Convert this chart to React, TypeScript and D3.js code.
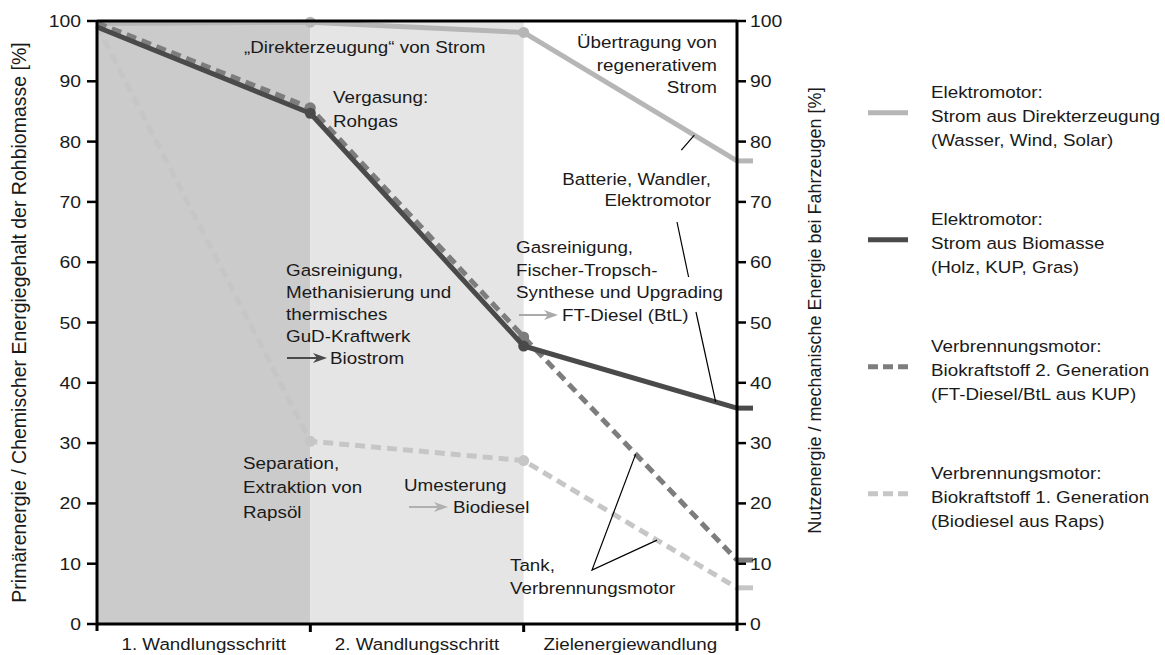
import * as d3 from "d3";

// stages on the x axis
const stages = ["1. Wandlungsschritt", "2. Wandlungsschritt", "Zielenergiewandlung"];
const yTicks = [0, 10, 20, 30, 40, 50, 60, 70, 80, 90, 100];

// energy share [%] at start, after step 1, after step 2, at the wheel
const direkt = [99.6, 99.8, 98.1, 76.8];
const biomasse = [99.0, 84.7, 46.1, 35.8];
const ftDiesel = [99.7, 85.6, 47.6, 10.6];
const biodiesel = [99.2, 30.3, 27.1, 6.0];

const legendLabels = [
  ["Elektromotor:", "Strom aus Direkterzeugung", "(Wasser, Wind, Solar)"],
  ["Elektromotor:", "Strom aus Biomasse", "(Holz, KUP, Gras)"],
  ["Verbrennungsmotor:", "Biokraftstoff 2. Generation", "(FT-Diesel/BtL aus KUP)"],
  ["Verbrennungsmotor:", "Biokraftstoff 1. Generation", "(Biodiesel aus Raps)"],
];

const series = [
  { key: "direkt", values: direkt, color: "#b6b6b6", dash: undefined },
  { key: "biomasse", values: biomasse, color: "#4a4a4a", dash: undefined },
  { key: "ft", values: ftDiesel, color: "#7d7d7d", dash: "10,6" },
  { key: "bio1", values: biodiesel, color: "#c6c6c6", dash: "10,6" },
];
const drawOrder = ["bio1", "direkt", "ft", "biomasse"];

const W = 1165;
const H = 655;
const left = 97;
const right = 737;
const top = 21;
const bottom = 624;
const SX = 1.14; // the reference is a bit wide
const FONT = "'Liberation Sans', Arial, Helvetica, sans-serif";
const INK = "#1a1a1a";

function Txt({
  x,
  y,
  lines,
  anchor = "start",
  size = 16.5,
  lh = 22.5,
}: {
  x: number;
  y: number;
  lines: string[];
  anchor?: "start" | "middle" | "end";
  size?: number;
  lh?: number;
}) {
  return (
    <text
      transform={`translate(${x},${y}) scale(${SX},1)`}
      fontSize={size}
      textAnchor={anchor}
      fill={INK}
    >
      {lines.map((l, i) => (
        <tspan key={i} x={0} y={i * lh}>
          {l}
        </tspan>
      ))}
    </text>
  );
}

function Arrow({ x0, x1, y, color }: { x0: number; x1: number; y: number; color: string }) {
  return (
    <g>
      <line x1={x0} x2={x1 - 8} y1={y} y2={y} stroke={color} strokeWidth={2} />
      <path
        d={`M${x1},${y} L${x1 - 14},${y - 5} L${x1 - 10},${y} L${x1 - 14},${y + 5} Z`}
        fill={color}
      />
    </g>
  );
}

export default function App() {
  const x = d3.scaleLinear().domain([0, 3]).range([left, right]);
  const y = d3.scaleLinear().domain([0, 100]).range([bottom, top]);

  const line = d3
    .line<number>()
    .x((_, i) => x(i))
    .y((d) => y(d));

  // point on a series at fractional stage t
  const onSeries = (vals: number[], t: number) => {
    const i = Math.min(Math.floor(t), vals.length - 2);
    const v = d3.interpolateNumber(vals[i], vals[i + 1])(t - i);
    return [x(t), y(v)];
  };

  const byKey = Object.fromEntries(series.map((s) => [s.key, s]));
  const [bx, by] = onSeries(direkt, 2.8);
  const [ex, ey] = onSeries(biomasse, 2.9);
  const [fx, fy] = onSeries(ftDiesel, 2.525);
  const [rx, ry] = onSeries(biodiesel, 2.625);

  const legendY = (i: number) => 112.7 + i * 127;

  return (
    <svg
      width={W}
      height={H}
      style={{ position: "absolute", left: 0, top: 0, display: "block" }}
      fontFamily={FONT}
    >
      <rect width={W} height={H} fill="#fff" />

      {/* stage bands */}
      <rect x={x(0)} y={top} width={x(1) - x(0)} height={bottom - top} fill="#cbcbcb" />
      <rect x={x(1)} y={top} width={x(2) - x(1)} height={bottom - top} fill="#e5e5e5" />

      {/* series */}
      {drawOrder.map((k) => {
        const s = byKey[k];
        return (
          <g key={k}>
            <path
              d={line(s.values)!}
              fill="none"
              stroke={s.color}
              strokeWidth={5}
              strokeDasharray={s.dash}
              strokeLinejoin="round"
            />
            {[1, 2].map((i) => (
              <circle key={i} cx={x(i)} cy={y(s.values[i])} r={5.5} fill={s.color} />
            ))}
            <line
              x1={x(3)}
              x2={x(3) + 16}
              y1={y(s.values[3])}
              y2={y(s.values[3])}
              stroke={s.color}
              strokeWidth={5}
            />
          </g>
        );
      })}

      {/* frame and axes */}
      <g stroke="#000" strokeWidth={3}>
        <line x1={left} x2={right} y1={top} y2={top} />
        <line x1={left} x2={right} y1={bottom} y2={bottom} />
        <line x1={left} x2={left} y1={top - 1} y2={bottom + 7} />
        <line x1={right} x2={right} y1={top - 1} y2={bottom + 7} />
        {[1, 2].map((i) => (
          <line key={i} x1={x(i)} x2={x(i)} y1={bottom} y2={bottom + 8} />
        ))}
        {yTicks.map((t) => (
          <g key={t}>
            <line x1={left - 10} x2={left} y1={y(t)} y2={y(t)} strokeWidth={2.5} />
            <line x1={right} x2={right + 9} y1={y(t)} y2={y(t)} strokeWidth={2.5} />
          </g>
        ))}
      </g>

      {yTicks.map((t) => (
        <g key={t}>
          <Txt x={left - 16} y={y(t) + 6} lines={[String(t)]} anchor="end" size={17} />
          <Txt x={right + 13} y={y(t) + 6} lines={[String(t)]} size={17} />
        </g>
      ))}

      {stages.map((s, i) => (
        <Txt key={s} x={(x(i) + x(i + 1)) / 2} y={650} lines={[s]} anchor="middle" size={16.5} />
      ))}

      {/* axis titles */}
      <text
        transform={`translate(19,${(top + bottom) / 2}) rotate(-90)`}
        textAnchor="middle"
        dominantBaseline="central"
        fontSize={19.5}
        fill={INK}
      >
        Primärenergie / Chemischer Energiegehalt der Rohbiomasse [%]
      </text>
      <text
        transform={`translate(815,${(top + bottom) / 2 - 12}) rotate(-90)`}
        textAnchor="middle"
        dominantBaseline="central"
        fontSize={18}
        fill={INK}
      >
        Nutzenergie / mechanische Energie bei Fahrzeugen [%]
      </text>

      {/* annotations */}
      <Txt x={244} y={53} lines={["\u201eDirekterzeugung\u201c von Strom"]} />
      <Txt x={717} y={48} lines={["Übertragung von", "regenerativem", "Strom"]} anchor="end" lh={22.7} />
      <Txt x={333} y={103} lines={["Vergasung:", "Rohgas"]} lh={24} />
      <Txt x={711} y={185} lines={["Batterie, Wandler,", "Elektromotor"]} anchor="end" lh={21} />
      <Txt x={516} y={253} lines={["Gasreinigung,", "Fischer-Tropsch-", "Synthese und Upgrading"]} lh={22.7} />
      <Arrow x0={519} x1={558} y={315} color="#aaaaaa" />
      <Txt x={562} y={321} lines={["FT-Diesel (BtL)"]} />
      <Txt
        x={286}
        y={276}
        lines={["Gasreinigung,", "Methanisierung und", "thermisches", "GuD-Kraftwerk"]}
        lh={22}
      />
      <Arrow x0={287} x1={327} y={358} color="#4a4a4a" />
      <Txt x={330} y={364} lines={["Biostrom"]} />
      <Txt x={243} y={469} lines={["Separation,", "Extraktion von", "Rapsöl"]} lh={24.3} />
      <Txt x={404} y={491} lines={["Umesterung"]} />
      <Arrow x0={409} x1={448} y={507} color="#b0b0b0" />
      <Txt x={453} y={513} lines={["Biodiesel"]} />
      <Txt x={510} y={571} lines={["Tank,", "Verbrennungsmotor"]} lh={22.7} />

      {/* callout lines */}
      <g stroke="#000" strokeWidth={1.2} fill="none">
        <line x1={bx} y1={by} x2={bx - 13} y2={by + 15} />
        <line x1={677} y1={222} x2={688.6} y2={277} />
        <line x1={696} y1={312} x2={ex} y2={ey} />
        <polyline points={`${fx},${fy} 592,570 ${rx},${ry}`} />
      </g>

      {/* legend */}
      {series.map((s, i) => (
        <g key={s.key}>
          <line
            x1={868}
            x2={908}
            y1={legendY(i)}
            y2={legendY(i)}
            stroke={s.color}
            strokeWidth={5}
            strokeDasharray={s.dash ? "10,5" : undefined}
          />
          <Txt x={931} y={legendY(i) - 15} lines={legendLabels[i]} lh={24} />
        </g>
      ))}
    </svg>
  );
}
